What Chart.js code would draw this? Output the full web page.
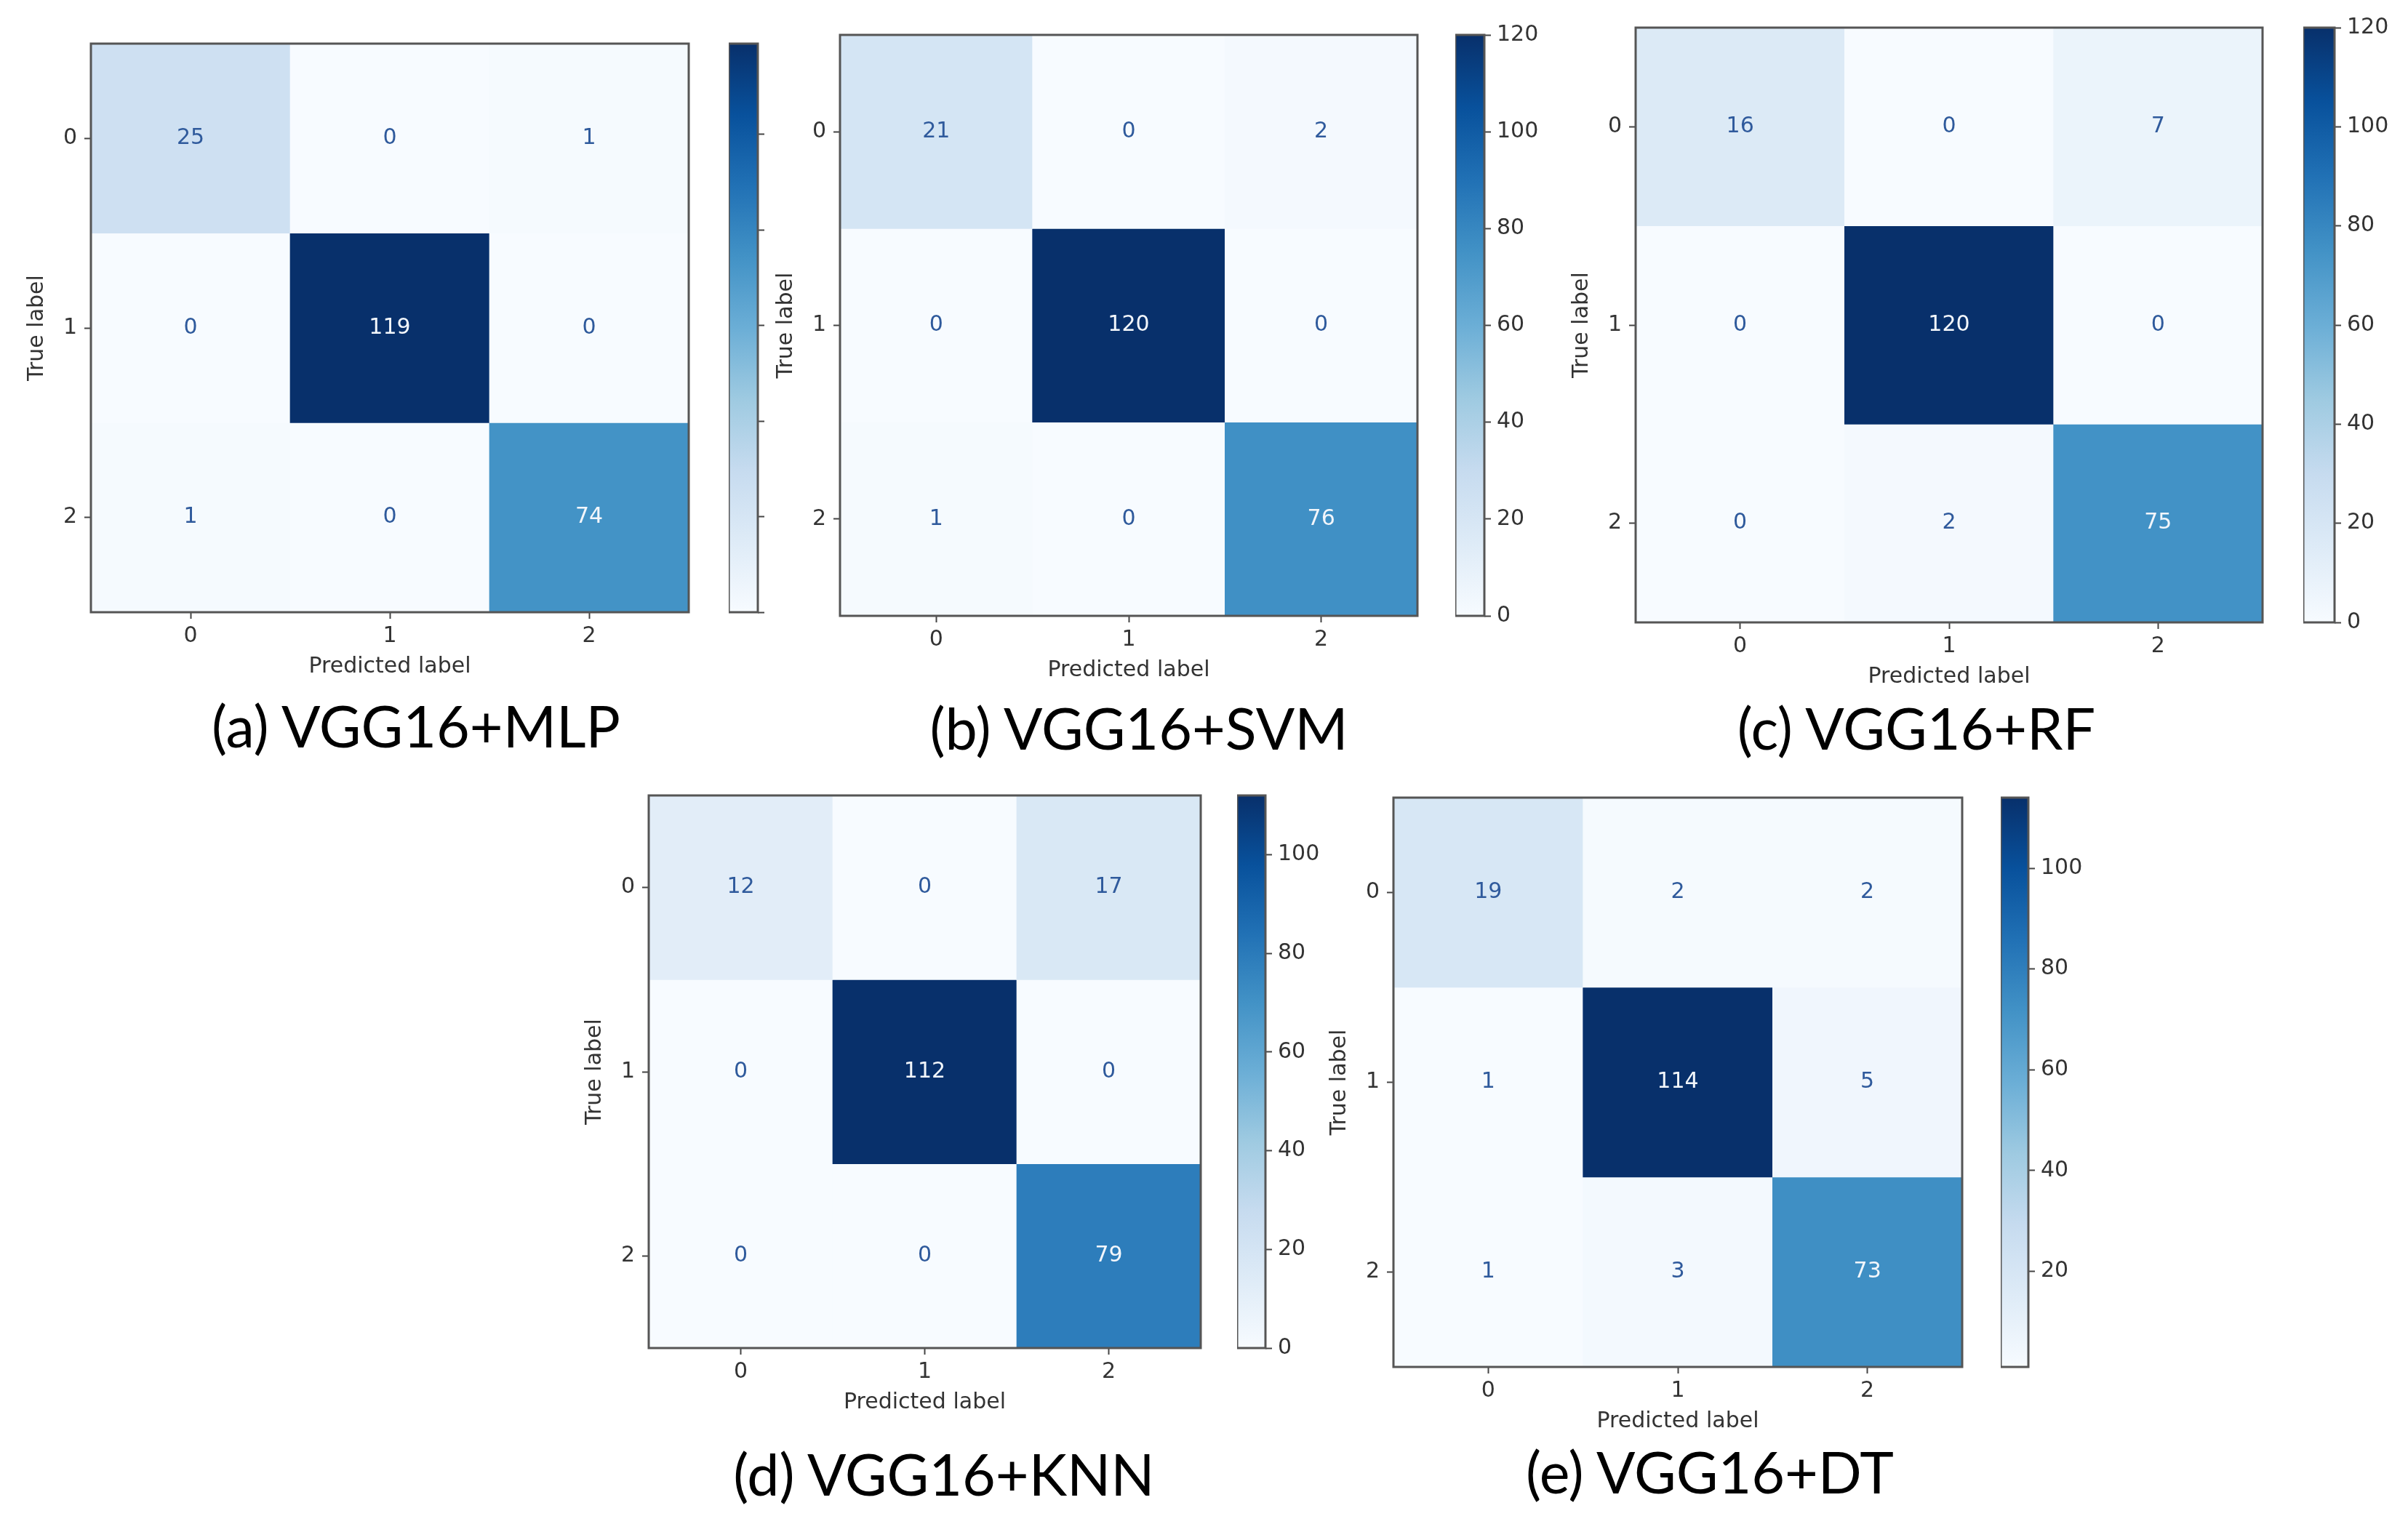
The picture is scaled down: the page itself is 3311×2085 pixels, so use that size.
<!DOCTYPE html>
<html><head><meta charset="utf-8">
<script src="https://cdn.jsdelivr.net/npm/chart.js@4.4.1/dist/chart.umd.min.js"></script>
<style>
html,body{margin:0;padding:0;background:#fff;}
#page{position:relative;width:3311px;height:2085px;overflow:hidden;background:#fff;}
#page canvas{position:absolute;}
.cap{position:absolute;font-family:Lato,'Open Sans',sans-serif;font-size:79px;color:#000;white-space:nowrap;transform:translate(-50%,-50%);line-height:1;}
</style></head>
<body><div id="page"></div>
<script>
// ---------------- data ----------------
const classLabels = ['0', '1', '2'];
const cmMLP = [[25, 0, 1], [0, 119, 0], [1, 0, 74]];
const cmSVM = [[21, 0, 2], [0, 120, 0], [1, 0, 76]];
const cmRF  = [[16, 0, 7], [0, 120, 0], [0, 2, 75]];
const cmKNN = [[12, 0, 17], [0, 112, 0], [0, 0, 79]];
const cmDT  = [[19, 2, 2], [1, 114, 5], [1, 3, 73]];
const matrices = [cmMLP, cmSVM, cmRF, cmKNN, cmDT];
const captions = ['(a) VGG16+MLP', '(b) VGG16+SVM', '(c) VGG16+RF', '(d) VGG16+KNN', '(e) VGG16+DT'];
const xTitle = 'Predicted label';
const yTitle = 'True label';
const colorbarStep = 20;

// ---------------- layout / style ----------------
const layouts = [
  {m: [125, 60, 947, 842],   cb: [1002, 1042], cap: [572, 997],   cbLabels: false},
  {m: [1155, 48, 1949, 847], cb: [2001, 2041], cap: [1566, 1000], cbLabels: true},
  {m: [2249, 38, 3111, 856], cb: [3167, 3210], cap: [2635, 1000], cbLabels: true},
  {m: [892, 1094, 1651, 1854], cb: [1701, 1740], cap: [1298, 2026], cbLabels: true},
  {m: [1916, 1097, 2698, 1880], cb: [2751, 2789], cap: [2351, 2023], cbLabels: true}
];
const BLUES = [[247,251,255],[222,235,247],[198,219,239],[158,202,225],[107,174,214],[66,146,198],[33,113,181],[8,81,156],[8,48,107]];
function blues(t) {
  t = Math.max(0, Math.min(1, t));
  const p = t * 8, i = Math.min(7, Math.floor(p)), f = p - i;
  const a = BLUES[i], b = BLUES[i + 1];
  return 'rgb(' + [0,1,2].map(k => Math.round(a[k] + (b[k] - a[k]) * f)).join(',') + ')';
}
const TXT = '#333333';
const tickFont = {family: 'DejaVu Sans', size: 30};
const page = document.getElementById('page');

const framePlugin = {
  id: 'frame',
  afterDraw(chart) {
    const {ctx, chartArea: a} = chart;
    ctx.save();
    ctx.strokeStyle = '#555555';
    ctx.lineWidth = 3;
    ctx.strokeRect(a.left, a.top, a.right - a.left, a.bottom - a.top);
    ctx.restore();
  }
};

function addCanvas(x, y, w, h) {
  const cv = document.createElement('canvas');
  cv.width = w; cv.height = h;
  cv.style.left = x + 'px'; cv.style.top = y + 'px';
  cv.style.width = w + 'px'; cv.style.height = h + 'px';
  page.appendChild(cv);
  return cv;
}

function makeMatrix(cm, L) {
  const [l, t, r, b] = L.m;
  const YW = 100, XH = 100, PT = 40, PR = 40;
  const w = r - l, h = b - t;
  const cv = addCanvas(l - YW, t - PT, YW + w + PR, PT + h + XH);
  const flat = cm.flat();
  const vmin = Math.min(...flat), vmax = Math.max(...flat);
  const thresh = (vmin + vmax) / 2;
  const datasets = cm.map((row, i) => ({
    label: classLabels[i],
    data: row.map(() => [i - 0.5, i + 0.5]),
    backgroundColor: row.map(v => blues((v - vmin) / (vmax - vmin))),
    borderWidth: 0,
    barPercentage: 1,
    categoryPercentage: 1,
    grouped: false
  }));
  const cellText = {
    id: 'cellText',
    afterDatasetsDraw(chart) {
      const ctx = chart.ctx;
      ctx.save();
      ctx.font = '30px "DejaVu Sans"';
      ctx.textAlign = 'center';
      ctx.textBaseline = 'middle';
      chart.data.datasets.forEach((ds, i) => {
        chart.getDatasetMeta(i).data.forEach((bar, j) => {
          const v = cm[i][j];
          ctx.fillStyle = v < thresh ? '#2f5a9c' : '#f2f6fb';
          ctx.fillText(String(v), bar.x, (bar.y + bar.base) / 2);
        });
      });
      ctx.restore();
    }
  };
  new Chart(cv, {
    type: 'bar',
    data: {labels: classLabels, datasets},
    options: {
      responsive: false, animation: false, devicePixelRatio: 1,
      layout: {padding: {left: 0, top: PT, right: PR, bottom: 0}},
      plugins: {legend: {display: false}, tooltip: {enabled: false}},
      scales: {
        x: {
          type: 'category', offset: true,
          grid: {display: true, offset: false, drawOnChartArea: false, drawTicks: true, tickLength: 9, tickWidth: 2, tickColor: '#444'},
          border: {display: false},
          ticks: {font: tickFont, color: TXT, padding: 6, maxRotation: 0},
          title: {display: true, text: xTitle, font: tickFont, color: TXT, padding: {top: 0, bottom: 7}},
          afterFit: s => { s.height = XH; }
        },
        y: {
          type: 'linear', min: -0.5, max: 2.5, reverse: true,
          ticks: {font: tickFont, color: TXT, padding: 10, callback: v => classLabels[v]},
          afterBuildTicks: ax => { ax.ticks = classLabels.map((_, i) => ({value: i})); },
          grid: {display: true, drawOnChartArea: false, drawTicks: true, tickLength: 9, tickWidth: 2, tickColor: '#444'},
          border: {display: false},
          title: {display: true, text: yTitle, font: tickFont, color: TXT, padding: {top: 8, bottom: 0}},
          afterFit: s => { s.width = YW; }
        }
      }
    },
    plugins: [cellText, framePlugin]
  });
  return [vmin, vmax];
}

function makeColorbar(cm, L, vmin, vmax) {
  const [cl, cr] = L.cb;
  const t = L.m[1], b = L.m[3];
  const RW = L.cbLabels ? 100 : 14, PT = 40, PB = 40;
  const cv = addCanvas(cl, t - PT, cr - cl + RW, PT + (b - t) + PB);
  new Chart(cv, {
    type: 'bar',
    data: {
      labels: [''],
      datasets: [{
        data: [[vmin, vmax]],
        backgroundColor: (c) => {
          const chart = c.chart, ys = chart.scales.y;
          if (!chart.chartArea || !ys) return blues(0.5);
          const y0 = ys.getPixelForValue(vmin), y1 = ys.getPixelForValue(vmax);
          const g = chart.ctx.createLinearGradient(0, y0, 0, y1);
          for (let k = 0; k < BLUES.length; k++) g.addColorStop(k / 8, blues(k / 8));
          return g;
        },
        borderWidth: 0, barPercentage: 1, categoryPercentage: 1
      }]
    },
    options: {
      responsive: false, animation: false, devicePixelRatio: 1,
      layout: {padding: {left: 0, top: PT, right: 0, bottom: PB}},
      plugins: {legend: {display: false}, tooltip: {enabled: false}},
      scales: {
        x: {display: false, offset: true},
        y: {
          position: 'right', min: vmin, max: vmax,
          ticks: {stepSize: colorbarStep, display: L.cbLabels, font: tickFont, color: TXT, padding: 8},
          afterBuildTicks: ax => { ax.ticks = ax.ticks.filter(tk => tk.value % colorbarStep === 0); },
          grid: {display: true, drawOnChartArea: false, drawTicks: true, tickLength: 9, tickWidth: 2, tickColor: '#444'},
          border: {display: false},
          afterFit: s => { s.width = RW; }
        }
      }
    },
    plugins: [framePlugin]
  });
}

matrices.forEach((cm, k) => {
  const L = layouts[k];
  const [vmin, vmax] = makeMatrix(cm, L);
  makeColorbar(cm, L, vmin, vmax);
  const d = document.createElement('div');
  d.className = 'cap';
  d.textContent = captions[k];
  d.style.left = L.cap[0] + 'px';
  d.style.top = L.cap[1] + 'px';
  page.appendChild(d);
});
</script>
</body></html>
